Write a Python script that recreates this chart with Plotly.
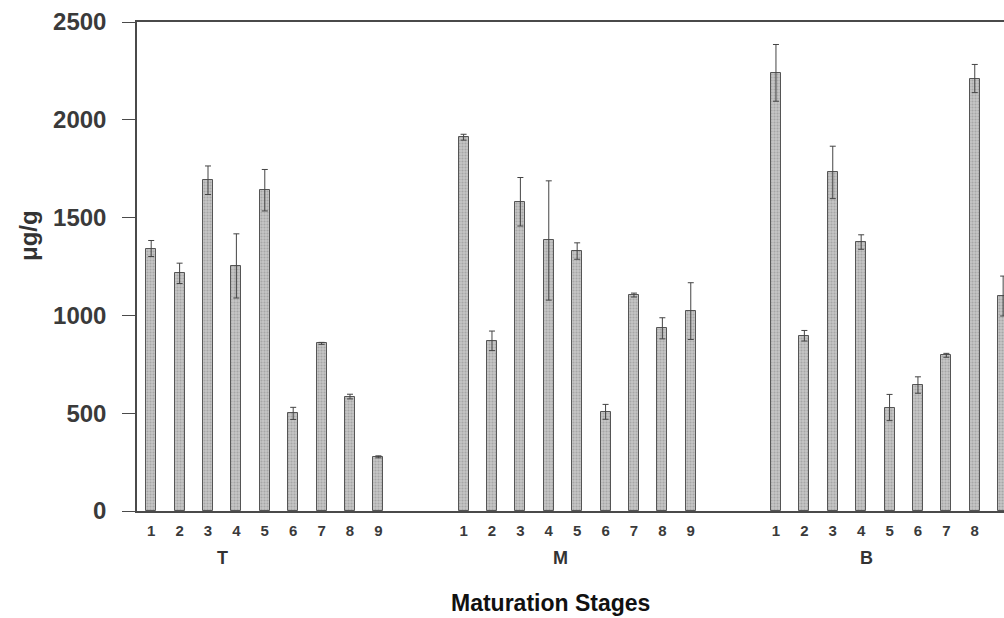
import plotly.graph_objects as go

groups = ["T", "M", "B"]
stages = ["1", "2", "3", "4", "5", "6", "7", "8", "9"]
T_vals = [1342, 1215, 1691, 1253, 1640, 499, 857, 585, 277]
T_err = [41, 52, 73, 164, 106, 31, 5, 12, 5]
M_vals = [1911, 870, 1581, 1383, 1329, 507, 1104, 934, 1022]
M_err = [15, 50, 124, 305, 42, 38, 10, 54, 145]
B_vals = [2240, 896, 1731, 1375, 529, 644, 796, 2211, 1099]
B_err = [145, 27, 134, 37, 67, 42, 10, 72, 102]
y_ticks = [0, 500, 1000, 1500, 2000, 2500]

values = [T_vals, M_vals, B_vals]
errors = [T_err, M_err, B_err]
gap = 11  # slots per group (9 bars + 2 empty)

xs, ys, es, texts = [], [], [], []
for g, (vals, errs) in enumerate(zip(values, errors)):
    for s, (v, e) in enumerate(zip(vals, errs)):
        xs.append(g * gap + s)
        ys.append(v)
        es.append(e)
        texts.append(stages[s])

FONT = "Liberation Sans, Arial, sans-serif"
AX = "#4a4a4a"

fig = go.Figure()
fig.add_bar(
    x=xs, y=ys, width=0.35,
    marker=dict(
        color="#c0c0c0",
        line=dict(color="#555555", width=1),
        pattern=dict(shape=".", fgcolor="#858585", bgcolor="#c6c6c6", size=3, solidity=0.4),
    ),
    error_y=dict(type="data", array=es, symmetric=True, color="#444444", thickness=1, width=3),
    showlegend=False,
)

fig.update_layout(
    width=1004, height=618,
    margin=dict(l=137, r=0, t=22, b=107),
    paper_bgcolor="white", plot_bgcolor="white",
    bargap=0,
    font=dict(family=FONT, color="#333333"),
)
fig.update_xaxes(
    range=[-0.5, 30.03],
    tickmode="array", tickvals=xs, ticktext=texts,
    ticks="", showgrid=False, zeroline=False,
    showline=True, linecolor=AX, linewidth=1.8, mirror=True,
    tickfont=dict(size=15, weight="bold", color="#3a3a3a"),
    ticklabelstandoff=5,
)
fig.update_yaxes(
    range=[0, 2500],
    tickmode="array", tickvals=y_ticks,
    ticks="outside", ticklen=13, tickcolor=AX, tickwidth=1,
    showgrid=False, zeroline=False,
    showline=True, linecolor=AX, linewidth=1.5,
    tickfont=dict(size=24, weight="bold", color="#3a3a3a"),
    ticklabelstandoff=11,
)

# group labels
group_x = [2.5, 14.4, 25.2]
for name, gx in zip(groups, group_x):
    fig.add_annotation(x=gx, xref="x", y=(511 - 558) / 489, yref="paper", text=name,
                       showarrow=False, yanchor="middle",
                       font=dict(size=18, weight="bold", color="#333333"))

fig.add_annotation(x=(550 - 137) / 867, xref="paper", y=(511 - 603) / 489, yref="paper",
                   text="Maturation Stages", showarrow=False, xanchor="center", yanchor="middle",
                   font=dict(size=23, weight="bold", color="#111111"))
fig.add_annotation(x=(28 - 137) / 867, xref="paper", y=(511 - 236) / 489, yref="paper",
                   text="μg/g", showarrow=False, textangle=-90, xanchor="center", yanchor="middle",
                   font=dict(size=24, weight="bold", color="#333333"))

fig.write_html("out.html")
